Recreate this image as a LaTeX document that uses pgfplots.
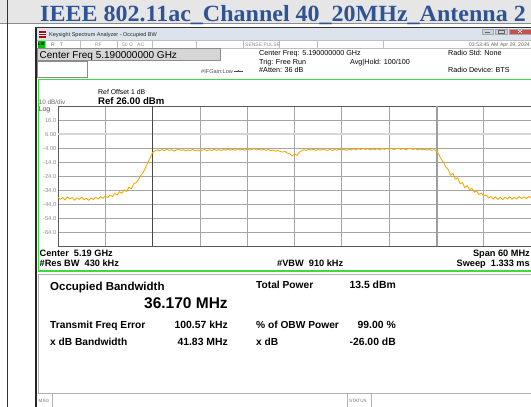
\documentclass[border=0pt]{standalone}
\usepackage{fontspec}
\setmainfont{Liberation Sans}
\newfontfamily\titlefont{Liberation Serif}
\usepackage{pgfplots}
\pgfplotsset{compat=1.18}
\definecolor{titleblue}{HTML}{2F5496}
\definecolor{hdrgray}{HTML}{E7E6E6}
\definecolor{trace}{HTML}{F2A700}
\definecolor{lime}{HTML}{3CDC3C}
\definecolor{tbar}{HTML}{DCE3EC}
\definecolor{btn}{HTML}{C6D3E3}
\definecolor{closebtn}{HTML}{C8504A}
\newcommand{\fs}[1]{\fontsize{#1bp}{#1bp}\selectfont}
\begin{document}
\begin{tikzpicture}
\useasboundingbox (0,0) rectangle (531bp,-407bp);
\begin{scope}[x=1bp,y=-1bp]
\clip (0,0) rectangle (531,407);
% document table header
\fill[hdrgray] (0,0) rectangle (531,23);
\draw[black!45, line width=0.6bp] (0,23) -- (531,23);
\draw[black!80, line width=0.7bp] (7,0) -- (7,407);
\node[anchor=base west, inner sep=0, text=titleblue, font=\titlefont\bfseries\fs{23.2}] at (40,21.8) {\scalebox{1.035}[1]{IEEE 802.11ac\_Channel 40\_20MHz\_Antenna 2}};
% window frame
\fill[black!85] (35.2,27) rectangle (37,407);
\fill[black!80] (35.2,26.8) rectangle (531,28.2);
\fill[tbar] (37,28.2) rectangle (531,40);
\fill[red!75!black] (39,31) rectangle (46,37.5);
\draw[white, line width=0.5bp] (39,33) -- (46,33) (39,35) -- (46,35);
\node[anchor=base west, inner sep=0, font=\fs{5.5}, text=black!85] at (49,36.3) {Keysight Spectrum Analyzer - Occupied BW};
\filldraw[fill=btn, draw=black!35, line width=0.3bp] (482,28.8) rectangle (493,34);
\filldraw[fill=btn, draw=black!35, line width=0.3bp] (495,28.8) rectangle (507,34);
\filldraw[fill=closebtn, draw=black!35, line width=0.3bp] (509,28.8) rectangle (531,34);
\draw[black!60, line width=0.6bp] (485,32) -- (490,32);
\draw[black!60, line width=0.4bp] (498,30) rectangle (504,33);
\draw[white, line width=0.6bp] (518,29.8) -- (522,33) (518,33) -- (522,29.8);
% status row
\draw[black!25, line width=0.5bp] (37,40.3) -- (531,40.3) (37,48) -- (531,48);
\foreach \sx in {45,80,117,152,196,243,279,317,383}
  \draw[black!25, line width=0.5bp] (\sx,40.3) -- (\sx,48);
\fill[green!75!black] (37.5,41) rectangle (44.5,47.5);
\node[anchor=base west, inner sep=0, font=\bfseries\fs{4.2}] at (37.8,45.8) {LXI};
\node[anchor=base west, inner sep=0, font=\fs{5}, text=black!60] at (51,46.2) {R};
\node[anchor=base west, inner sep=0, font=\fs{5}, text=black!60] at (60,46.2) {T};
\node[anchor=base west, inner sep=0, font=\fs{5}, text=black!45] at (95,46.2) {RF};
\node[anchor=base west, inner sep=0, font=\fs{5}, text=black!45] at (122,46.2) {50 Ω};
\node[anchor=base west, inner sep=0, font=\fs{5}, text=black!45] at (137,46.2) {AC};
\node[anchor=base west, inner sep=0, font=\fs{5}, text=black!45] at (245,46.2) {SENSE:PULSE};
\node[anchor=base east, inner sep=0, font=\fs{5.2}, text=black!60] at (530,46.2) {03:53:45 AM Apr 29, 2024};
% center freq box
\filldraw[fill=black!16, draw=black!45, line width=0.5bp] (37.5,48.6) rectangle (220,60);
\node[anchor=base west, inner sep=0, font=\fs{10}] at (39.5,58.2) {Center Freq 5.190000000 GHz};
\filldraw[fill=white, draw=black!45, line width=0.5bp] (37.5,61) rectangle (87,77);
\node[anchor=base west, inner sep=0, font=\fs{5.6}, text=black!70] at (201,73.6) {\#IFGain:Low};
\draw[black!70, line width=0.5bp] (234,71) -- (243,71);
\fill[black!70] (238.5,71) circle (0.9);
\node[anchor=base west, inner sep=0, font=\fs{7.2}] at (259,55.6) {Center Freq: 5.190000000 GHz};
\node[anchor=base west, inner sep=0, font=\fs{7.2}] at (259,64.2) {Trig: Free Run};
\node[anchor=base west, inner sep=0, font=\fs{7.2}] at (350,64.2) {Avg|Hold: 100/100};
\node[anchor=base west, inner sep=0, font=\fs{7.2}] at (259,72.6) {\#Atten: 36 dB};
\node[anchor=base west, inner sep=0, font=\fs{7.2}] at (448,55.6) {Radio Std: None};
\node[anchor=base west, inner sep=0, font=\fs{7.2}] at (448,72.6) {Radio Device: BTS};
% green active frame
\draw[lime, line width=1.6bp] (38.4,79.4) rectangle (560,270.8);
% plot annotations
\node[anchor=base west, inner sep=0, font=\fs{6.9}] at (98,94.5) {Ref Offset 1 dB};
\node[anchor=base west, inner sep=0, font=\bfseries\fs{9.6}] at (98,104.5) {Ref 26.00 dBm};
\node[anchor=base west, inner sep=0, font=\fs{6.4}, text=black!60] at (38.5,104.3) {10 dB/div};
\node[anchor=base west, inner sep=0, font=\fs{7}, text=black!70] at (38.5,111.8) {Log};
\foreach \yy/\lab in {120/16.0,134/6.00,148/-4.00,162/-14.0,176/-24.0,190/-34.0,204/-44.0,218/-54.0,232/-64.0}
  \node[anchor=base east, inner sep=0, font=\fs{5.8}, text=black!45] at (56.5,\yy+2.1) {\lab};
\node[anchor=base west, inner sep=0, font=\bfseries\fs{9.2}] at (39.5,256.4) {Center\ \ 5.19 GHz};
\node[anchor=base west, inner sep=0, font=\bfseries\fs{9.2}] at (39.5,266.6) {\#Res BW\ \ 430 kHz};
\node[anchor=base west, inner sep=0, font=\bfseries\fs{9.2}] at (277,266.6) {\#VBW\ \ 910 kHz};
\node[anchor=base east, inner sep=0, font=\bfseries\fs{9.2}] at (530,256.4) {Span 60 MHz};
\node[anchor=base east, inner sep=0, font=\bfseries\fs{9.2}] at (530,266.6) {Sweep\ \ 1.333 ms};
% results panel
\draw[black!30, line width=0.7bp] (38.5,274) rectangle (560,393);
\node[anchor=base west, inner sep=0, font=\bfseries\fs{11.5}] at (50,290.2) {Occupied Bandwidth};
\node[anchor=base west, inner sep=0, font=\bfseries\fs{15.5}] at (144,308.6) {36.170 MHz};
\node[anchor=base west, inner sep=0, font=\bfseries\fs{10.2}] at (256,288.7) {Total Power};
\node[anchor=base east, inner sep=0, font=\bfseries\fs{10.4}] at (396,288.7) {13.5 dBm};
\node[anchor=base west, inner sep=0, font=\bfseries\fs{10.2}] at (50,328.7) {Transmit Freq Error};
\node[anchor=base east, inner sep=0, font=\bfseries\fs{10.4}] at (228,328.7) {100.57 kHz};
\node[anchor=base west, inner sep=0, font=\bfseries\fs{10.2}] at (256,328.7) {\% of OBW Power};
\node[anchor=base east, inner sep=0, font=\bfseries\fs{10.4}] at (396,328.7) {99.00 \%};
\node[anchor=base west, inner sep=0, font=\bfseries\fs{10.2}] at (50,345.6) {x dB Bandwidth};
\node[anchor=base east, inner sep=0, font=\bfseries\fs{10.4}] at (228,345.6) {41.83 MHz};
\node[anchor=base west, inner sep=0, font=\bfseries\fs{10.2}] at (256,345.6) {x dB};
\node[anchor=base east, inner sep=0, font=\bfseries\fs{10.4}] at (396,345.6) {-26.00 dB};
% message bar
\draw[black!30, line width=0.6bp] (52,393) -- (52,407) (347,393) -- (347,407) (371,393) -- (371,407);
\node[anchor=base west, inner sep=0, font=\fs{4.6}, text=black!55] at (38.5,402.6) {MSG};
\node[anchor=base west, inner sep=0, font=\fs{4.6}, text=black!55] at (349,402.6) {STATUS};
\end{scope}
\begin{axis}[
  at={(58bp,-246bp)}, anchor=south west,
  width=473bp, height=140bp, scale only axis,
  xmin=5160, xmax=5220, ymin=-74, ymax=26,
  xtick={5160,5166,5172,5178,5184,5190,5196,5202,5208,5214,5220},
  ytick={-74,-64,-54,-44,-34,-24,-14,-4,6,16,26},
  xticklabels={}, yticklabels={},
  major tick length=0pt,
  grid=major,
  major grid style={draw=black!35, line width=0.7bp},
  axis line style={draw=black!65, line width=0.9bp},
  extra y ticks={6}, extra y tick labels={},
  extra y tick style={grid=major, major grid style={draw=black!16, line width=2bp}},
  clip=true,
]
\draw[black!72, line width=0.8bp] (axis cs:5171.915,-74) -- (axis cs:5171.915,26);
\draw[black!38, line width=2bp] (axis cs:5208.085,-74) -- (axis cs:5208.085,26);
\addplot[trace, line width=0.85bp] table {
f p
5160.0 -39.2
5160.3 -40.6
5160.6 -39.4
5160.9 -41.1
5161.2 -38.9
5161.5 -40.4
5161.8 -39.3
5162.1 -41.2
5162.4 -39.6
5162.7 -40.7
5163.0 -39.1
5163.3 -41.0
5163.6 -39.9
5163.9 -41.4
5164.2 -39.7
5164.5 -40.8
5164.8 -39.2
5165.1 -40.5
5165.4 -38.7
5165.7 -39.9
5166.0 -38.4
5166.3 -39.4
5166.6 -37.6
5166.9 -38.6
5167.2 -36.4
5167.5 -37.5
5167.8 -35.2
5168.1 -36.3
5168.4 -33.8
5168.7 -35.1
5169.0 -31.9
5169.3 -33.2
5169.6 -29.6
5169.9 -28.8
5170.2 -26.7
5170.5 -23.7
5170.8 -21.5
5171.1 -18.0
5171.4 -14.4
5171.7 -10.7
5172.0 -7.2
5172.3 -6.1
5172.6 -5.3
5172.9 -6.0
5173.2 -5.1
5173.5 -5.9
5173.8 -4.8
5174.1 -5.7
5174.4 -5.2
5174.7 -6.2
5175.0 -5.4
5175.3 -4.9
5175.6 -5.8
5175.9 -5.2
5176.2 -6.1
5176.5 -5.3
5176.8 -5.9
5177.1 -5.0
5177.4 -6.0
5177.7 -5.4
5178.0 -6.2
5178.3 -5.5
5178.6 -5.1
5178.9 -6.0
5179.2 -5.2
5179.5 -5.8
5179.8 -4.9
5180.1 -5.7
5180.4 -5.1
5180.7 -5.9
5181.0 -5.0
5181.3 -5.6
5181.6 -4.7
5181.9 -5.5
5182.2 -4.9
5182.5 -5.7
5182.8 -4.6
5183.1 -5.4
5183.4 -4.9
5183.7 -5.6
5184.0 -4.8
5184.3 -5.5
5184.6 -4.9
5184.9 -4.5
5185.2 -5.4
5185.5 -5.0
5185.8 -5.5
5186.1 -4.9
5186.4 -5.7
5186.7 -5.1
5187.0 -6.0
5187.3 -5.4
5187.6 -6.2
5187.9 -5.7
5188.2 -6.5
5188.5 -6.9
5188.8 -6.4
5189.1 -7.7
5189.4 -8.1
5189.7 -9.7
5190.0 -8.3
5190.3 -9.3
5190.6 -7.0
5190.9 -6.0
5191.2 -5.2
5191.5 -5.8
5191.8 -4.9
5192.1 -5.5
5192.4 -4.8
5192.7 -5.7
5193.0 -5.1
5193.3 -5.6
5193.6 -4.7
5193.9 -5.4
5194.2 -5.7
5194.5 -5.0
5194.8 -5.8
5195.1 -5.1
5195.4 -5.6
5195.7 -4.8
5196.0 -5.5
5196.3 -4.9
5196.6 -5.7
5196.9 -5.0
5197.2 -5.4
5197.5 -4.6
5197.8 -5.3
5198.1 -4.4
5198.4 -5.1
5198.7 -4.3
5199.0 -5.0
5199.3 -4.5
5199.6 -5.4
5199.9 -4.7
5200.2 -5.2
5200.5 -4.5
5200.8 -5.3
5201.1 -4.4
5201.4 -5.0
5201.7 -4.2
5202.0 -4.9
5202.3 -4.3
5202.6 -5.1
5202.9 -4.5
5203.2 -4.1
5203.5 -5.0
5203.8 -4.4
5204.1 -5.2
5204.4 -4.6
5204.7 -4.2
5205.0 -5.0
5205.3 -4.5
5205.6 -5.3
5205.9 -4.7
5206.2 -5.4
5206.5 -4.8
5206.8 -5.5
5207.1 -5.0
5207.4 -5.7
5207.7 -5.2
5208.0 -6.0
5208.3 -8.4
5208.6 -11.9
5208.9 -14.2
5209.2 -17.6
5209.5 -19.3
5209.8 -23.4
5210.1 -22.1
5210.4 -26.2
5210.7 -25.4
5211.0 -29.6
5211.3 -28.7
5211.6 -32.3
5211.9 -30.9
5212.2 -33.8
5212.5 -32.9
5212.8 -35.6
5213.1 -34.7
5213.4 -37.3
5213.7 -36.2
5214.0 -38.4
5214.3 -37.5
5214.6 -39.6
5214.9 -38.7
5215.2 -40.5
5215.5 -38.9
5215.8 -40.7
5216.1 -39.2
5216.4 -40.9
5216.7 -39.1
5217.0 -40.3
5217.3 -38.8
5217.6 -40.6
5217.9 -39.3
5218.2 -40.4
5218.5 -38.7
5218.8 -40.0
5219.1 -39.0
5219.4 -40.2
5219.7 -38.6
5220.0 -39.5
};
\end{axis}
\end{tikzpicture}
\end{document}
